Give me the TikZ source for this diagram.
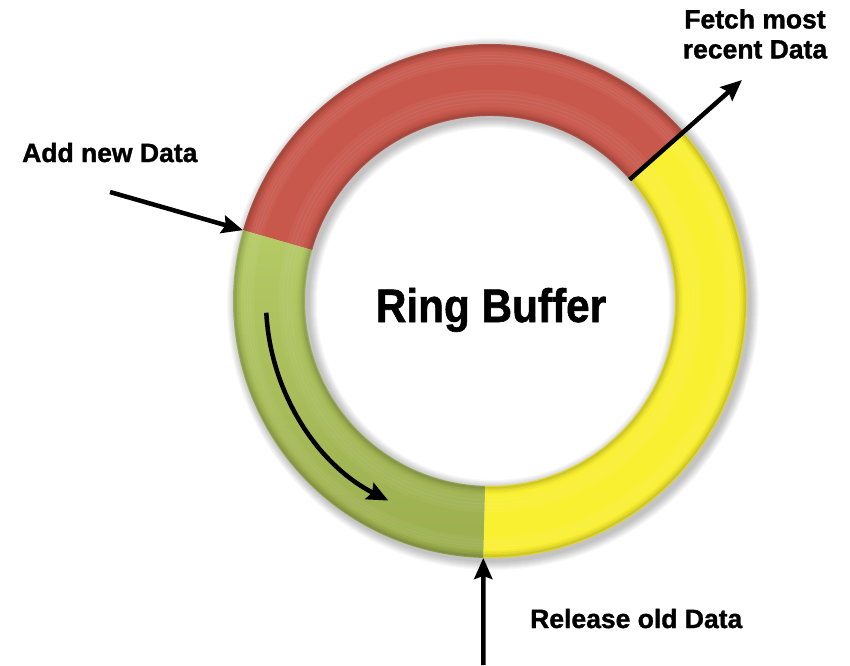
\documentclass[tikz,border=0pt]{standalone}
\usepackage{fontspec}
\setmainfont{Liberation Sans}[BoldFeatures={FakeBold=1.3}]
\usetikzlibrary{arrows.meta}

\definecolor{ringred}{RGB}{200,88,76}
\definecolor{ringgreen}{RGB}{174,198,88}
\definecolor{ringgreendark}{RGB}{156,174,78}
\definecolor{ringyellow}{RGB}{250,240,50}

\tikzset{
  label/.style={font=\bfseries\fontsize{26.5}{30}\selectfont, inner sep=0pt, align=center},
  flow/.style={line width=4.5pt, -{Stealth[length=21pt,width=18pt,inset=3pt]}},
}

% ring centre and radii
\def\cx{490}
\def\cy{-301}
\def\Ro{257}
\def\Ri{185}

% one annular sector of the ring
\newcommand\ringsector[2]{%
  ([shift={(\cx,\cy)}]#1:\Ro) arc[start angle=#1, end angle=#2, radius=\Ro]
  -- ([shift={(\cx,\cy)}]#2:\Ri) arc[start angle=#2, end angle=#1, radius=\Ri] -- cycle}
% soft bevel: darker rims, gentle highlight inside
\newcommand\bevel{%
  \foreach \d/\o in {1/0.10,2.5/0.08,4/0.05,6/0.03} {
    \draw[black, opacity=\o, line width=3pt] (\cx,\cy) circle[radius=\Ro-\d];
    \draw[black, opacity=\o, line width=3pt] (\cx,\cy) circle[radius=\Ri+\d];
  }
  \foreach \d/\o in {10/0.04,13/0.05,16/0.05,19/0.04} {
    \draw[white, opacity=\o, line width=4pt] (\cx,\cy) circle[radius=\Ro-\d];
  }
  \foreach \d/\o in {12/0.04,16/0.05,20/0.05,24/0.04} {
    \draw[white, opacity=\o, line width=5pt] (\cx,\cy) circle[radius=\Ri+\d];
  }
}

\begin{document}
\begin{tikzpicture}[x=1pt, y=1pt]
\useasboundingbox (0,0) rectangle (850,-665);
\fill[white] (0,0) rectangle (850,-665);

% soft shadow under the ring
\foreach \k in {1,...,9} {
  \fill[black, opacity=0.028, even odd rule]
    (\cx+3,\cy-3) circle[radius=\Ro+\k] (\cx+3,\cy-3) circle[radius=\Ri-\k];
}

% red part
\fill[ringred] \ringsector{41}{164};
\begin{scope}
  \clip \ringsector{41}{164};
  \bevel
\end{scope}

% green part
\shade[top color=ringgreen!92!white, middle color=ringgreen, bottom color=ringgreendark] \ringsector{164}{268.5};
\begin{scope}
  \clip \ringsector{164}{268.5};
  \bevel
\end{scope}

% yellow part
\fill[ringyellow] \ringsector{268.5}{401};
\begin{scope}
  \clip \ringsector{268.5}{401};
  \bevel
\end{scope}

% points on the ring
\coordinate (rgout) at ([shift={(\cx,\cy)}]164:\Ro);
\coordinate (ryin)  at ([shift={(\cx,\cy)}]41:\Ri);
\coordinate (gyout) at ([shift={(\cx,\cy)}]268.5:\Ro);
\coordinate (arcstart) at ([shift={(\cx,\cy)}]183:224);
\coordinate (addtail) at (110,-192);
\coordinate (fetchtip) at (742,-80);
\coordinate (reltail) at (483.3,-665);

% labels
\node[label, xscale=0.9, font=\bfseries\fontsize{47}{50}\selectfont, anchor=base] (title) at (491,-322) {Ring Buffer};
\node[label, anchor=base west] (add) at (22,-162) {Add new Data};
\node[label, anchor=north] (fetch) at (755,-9) {Fetch most\\recent Data};
\node[label, anchor=base west] (release) at (530,-628) {Release old Data};

% arrows
\draw[flow] (addtail) -- (rgout);
\draw[flow] (ryin) -- (fetchtip);
\draw[flow] (reltail) -- (gyout);
\draw[flow] (arcstart) arc[start angle=183, end angle=243, radius=224];
\end{tikzpicture}
\end{document}
